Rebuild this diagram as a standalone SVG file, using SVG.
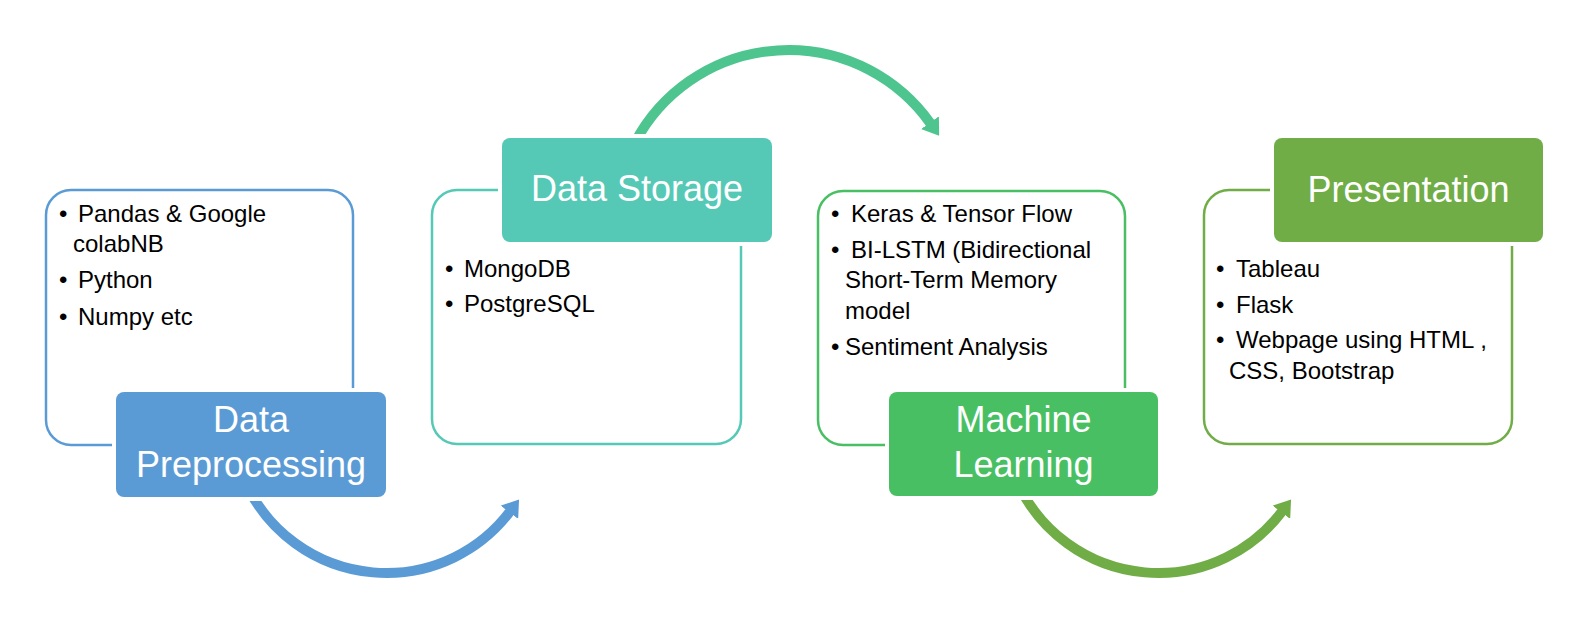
<svg xmlns="http://www.w3.org/2000/svg" width="1586" height="626" viewBox="0 0 1586 626">
<style>
.outline{fill:#fff;stroke-width:2.5}
.halo{fill:#fff}
.body{font-family:"Liberation Sans",Arial,sans-serif;font-size:24px;fill:#000}
.head{font-family:"Liberation Sans",Arial,sans-serif;font-size:36px;fill:#fff;text-anchor:middle}
.arc{fill:none;stroke-width:10}
</style>
<defs>
<marker id="ahTeal" markerUnits="userSpaceOnUse" viewBox="0 0 16 22" markerWidth="16" markerHeight="22" refX="1" refY="11" orient="auto"><path d="M0,0 L16,11 L0,22 Z" fill="#4EC58E"/></marker>
<marker id="ahBlue" markerUnits="userSpaceOnUse" viewBox="0 0 16 22" markerWidth="16" markerHeight="22" refX="1" refY="11" orient="auto"><path d="M0,0 L16,11 L0,22 Z" fill="#5B9BD5"/></marker>
<marker id="ahOlive" markerUnits="userSpaceOnUse" viewBox="0 0 16 22" markerWidth="16" markerHeight="22" refX="1" refY="11" orient="auto"><path d="M0,0 L16,11 L0,22 Z" fill="#70AD47"/></marker>
</defs>
<rect width="1586" height="626" fill="#fff"/>
<g id="connectors">
<path class="arc" d="M635.1,142.3 A173.8,173.8 0 0 1 930.5,123.5" stroke="#4EC58E" marker-end="url(#ahTeal)"/>
<path class="arc" d="M248.3,488.4 A155,155 0 0 0 510,511.5" stroke="#5B9BD5" marker-end="url(#ahBlue)"/>
<path class="arc" d="M1020.3,488.4 A155,155 0 0 0 1282,511.5" stroke="#70AD47" marker-end="url(#ahOlive)"/>
</g>
<g id="data-preprocessing">
<rect class="outline" x="46" y="190" width="307" height="255" rx="25" stroke="#5B9BD5"/>
<text class="body" x="59" y="222">•</text><text class="body" x="78" y="222">Pandas &amp; Google</text>
<text class="body" x="73" y="252">colabNB</text>
<text class="body" x="59" y="288">•</text><text class="body" x="78" y="288">Python</text>
<text class="body" x="59" y="325">•</text><text class="body" x="78" y="325">Numpy etc</text>
<rect class="halo" x="112" y="388" width="278" height="113" rx="12"/>
<rect x="116" y="392" width="270" height="105" rx="8" fill="#5B9BD5"/>
<text class="head" x="251" y="432">Data</text>
<text class="head" x="251" y="477">Preprocessing</text>
</g>
<g id="data-storage">
<rect class="outline" x="432" y="190" width="309" height="254" rx="25" stroke="#55C9B6"/>
<rect class="halo" x="498" y="134" width="278" height="112" rx="12"/>
<rect x="502" y="138" width="270" height="104" rx="8" fill="#55C9B6"/>
<text class="head" x="637" y="201">Data Storage</text>
<text class="body" x="445" y="277">•</text><text class="body" x="464" y="277">MongoDB</text>
<text class="body" x="445" y="312">•</text><text class="body" x="464" y="312">PostgreSQL</text>
</g>
<g id="machine-learning">
<rect class="outline" x="818" y="191" width="307" height="254" rx="25" stroke="#49BF63"/>
<text class="body" x="831" y="222">•</text><text class="body" x="851" y="222">Keras &amp; Tensor Flow</text>
<text class="body" x="831" y="258">•</text><text class="body" x="851" y="258">BI-LSTM (Bidirectional</text>
<text class="body" x="845" y="288">Short-Term Memory</text>
<text class="body" x="845" y="319">model</text>
<text class="body" x="831" y="355">•</text><text class="body" x="845" y="355">Sentiment Analysis</text>
<rect class="halo" x="885" y="388" width="277" height="112" rx="12"/>
<rect x="889" y="392" width="269" height="104" rx="8" fill="#49BF63"/>
<text class="head" x="1023.5" y="432">Machine</text>
<text class="head" x="1023.5" y="477">Learning</text>
</g>
<g id="presentation">
<rect class="outline" x="1204" y="190" width="308" height="254" rx="25" stroke="#70AD47"/>
<rect class="halo" x="1270" y="134" width="277" height="112" rx="12"/>
<rect x="1274" y="138" width="269" height="104" rx="8" fill="#70AD47"/>
<text class="head" x="1408.5" y="202">Presentation</text>
<text class="body" x="1216" y="277">•</text><text class="body" x="1236" y="277">Tableau</text>
<text class="body" x="1216" y="313">•</text><text class="body" x="1236" y="313">Flask</text>
<text class="body" x="1216" y="348">•</text><text class="body" x="1236" y="348">Webpage using HTML ,</text>
<text class="body" x="1229" y="379">CSS, Bootstrap</text>
</g>
</svg>
